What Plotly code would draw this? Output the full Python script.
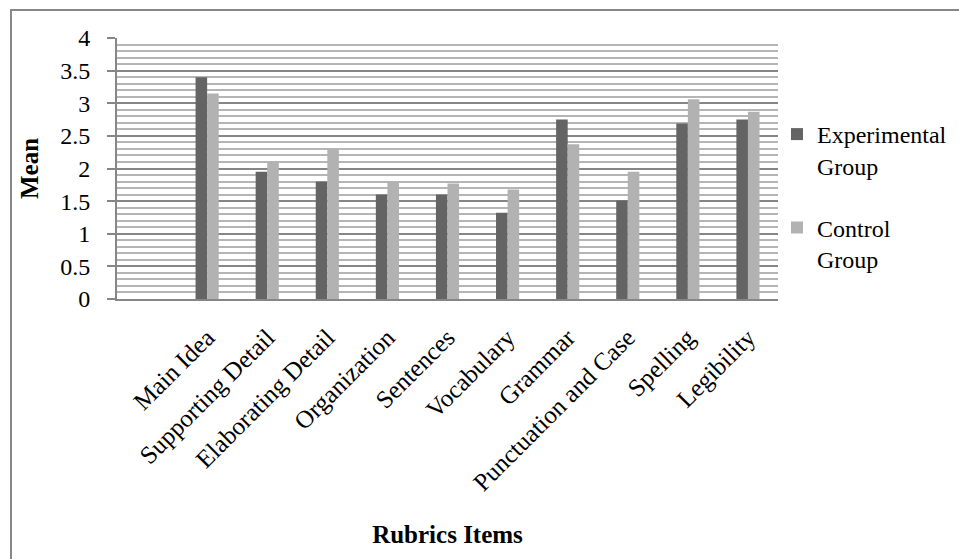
import plotly.graph_objects as go

categories = ["Main Idea", "Supporting Detail", "Elaborating Detail", "Organization",
              "Sentences", "Vocabulary", "Grammar", "Punctuation and Case",
              "Spelling", "Legibility"]
experimental = [3.40, 1.95, 1.80, 1.60, 1.60, 1.32, 2.75, 1.51, 2.69, 2.75]
control = [3.15, 2.10, 2.30, 1.80, 1.77, 1.68, 2.37, 1.95, 3.06, 2.87]
series_names = ["Experimental<br>Group", "Control<br>Group"]

W, H = 959, 559
L, R, T, B = 117, 181, 38, 260
pw, ph = W - L - R, H - T - B

FONT = "Liberation Serif"

fig = go.Figure()
fig.add_trace(go.Bar(x=categories, y=experimental, name=series_names[0],
                     marker=dict(color="#646464", line=dict(width=0)),
                     legendgroup="a"))
fig.add_trace(go.Bar(x=categories, y=control, name=series_names[1],
                     marker=dict(color="#b2b2b2", line=dict(width=0)),
                     legendgroup="b"))

def px_x(px):
    return (px - L) / pw

def px_y(py):
    return (H - B - py) / ph

fig.update_layout(
    width=W, height=H,
    margin=dict(l=L, r=R, t=T, b=B, autoexpand=False),
    paper_bgcolor="white", plot_bgcolor="white",
    font=dict(family=FONT, color="black", size=24),
    barmode="group", bargap=0.615, bargroupgap=0,
    showlegend=True,
    legend=dict(x=px_x(777), y=px_y(112), xanchor="left", yanchor="top",
                font=dict(family=FONT, size=24, color="black"),
                tracegroupgap=28, valign="top", bgcolor="rgba(0,0,0,0)"),
    xaxis=dict(type="category", range=[-1.5, 9.5], categoryorder="array",
               categoryarray=categories,
               tickangle=-45, showgrid=False, zeroline=False,
               showline=True, linecolor="#868686", linewidth=2,
               ticks="", ticklabelstandoff=12,
               tickfont=dict(family=FONT, size=25),
               title=dict(text="<b>Rubrics Items</b>", font=dict(family=FONT, size=25),
                          standoff=30)),
    yaxis=dict(range=[0, 4], dtick=0.5, tick0=0, tickformat="~g",
               showgrid=True, gridcolor="#868686", gridwidth=2,
               minor=dict(dtick=0.1, tick0=0, showgrid=True, gridcolor="#b5b5b5", gridwidth=2),
               zeroline=False, showline=True, linecolor="#868686", linewidth=2,
               ticks="outside", ticklen=8, tickwidth=2, tickcolor="#868686",
               ticklabelstandoff=12,
               tickfont=dict(family=FONT, size=24),
               title=dict(text="<b>Mean</b>", font=dict(family=FONT, size=25),
                          standoff=14)),
    shapes=[dict(type="rect", xref="paper", yref="paper",
                 x0=px_x(11), x1=px_x(1000), y0=px_y(600), y1=px_y(10),
                 line=dict(color="#888888", width=2), fillcolor="rgba(0,0,0,0)",
                 layer="below")],
)

fig.write_html("out.html")
